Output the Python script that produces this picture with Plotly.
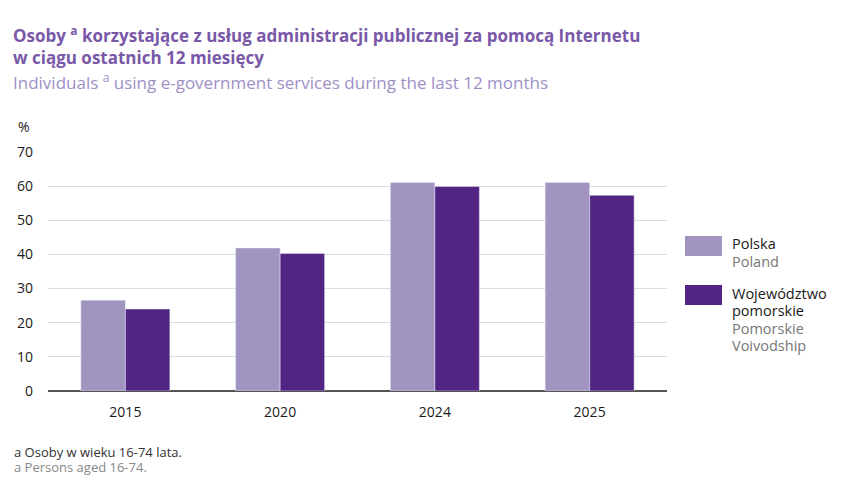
import plotly.graph_objects as go

years = ["2015", "2020", "2024", "2025"]
polska = [26.6, 41.9, 61.1, 61.1]
pomorskie = [24.0, 40.3, 59.9, 57.3]
y_ticks = [0, 10, 20, 30, 40, 50, 60, 70]

LIGHT = "#a194c1"
DARK = "#522483"
FONT = "Open Sans"

fig = go.Figure()
fig.add_trace(go.Bar(x=years, y=polska, name="Polska", marker_color=LIGHT))
fig.add_trace(go.Bar(x=years, y=pomorskie, name="Województwo pomorskie", marker_color=DARK))

fig.update_layout(
    width=864, height=478,
    margin=dict(l=48, r=197, t=152, b=87),
    paper_bgcolor="white", plot_bgcolor="white",
    barmode="group", bargap=0.425, bargroupgap=0,
    showlegend=False,
    font=dict(family=FONT, size=14, color="#1a1a1a"),
)
fig.update_xaxes(showgrid=False, showline=False, ticks="", ticklabelstandoff=11,
                 tickfont=dict(size=14, color="#1a1a1a"))
fig.update_yaxes(range=[0, 70], tickvals=y_ticks, showgrid=True, gridcolor="#dcdcdc",
                 gridwidth=1, zeroline=True, zerolinecolor="#555555", zerolinewidth=1.5,
                 ticklabelstandoff=14, tickfont=dict(size=14, color="#1a1a1a"))

# titles
fig.add_annotation(x=11, y=45, showarrow=False,
                   text="<b>Osoby <sup>a</sup> korzystające z usług administracji publicznej za pomocą Internetu<br>w ciągu ostatnich 12 miesięcy</b>",
                   xanchor="left", yanchor="middle", align="left",
                   font=dict(size=17, color="#7a58a8", family=FONT))
fig.add_annotation(x=11, y=81, showarrow=False,
                   text="Individuals <sup>a</sup> using e-government services during the last 12 months",
                   xanchor="left", yanchor="middle", align="left",
                   font=dict(size=17, color="#9e90c6", family=FONT))
fig.add_annotation(x=24, y=126, showarrow=False, text="%", xanchor="center", yanchor="middle",
                   font=dict(size=14, color="#1a1a1a"))

# footnote
fig.add_annotation(x=12, y=452, showarrow=False, text="a Osoby w wieku 16-74 lata.",
                   xanchor="left", yanchor="middle", font=dict(size=13, color="#333333"))
fig.add_annotation(x=12, y=467, showarrow=False, text="a Persons aged 16-74.",
                   xanchor="left", yanchor="middle", font=dict(size=13, color="#888888"))

# legend
fig.add_shape(type="rect", x0=685, x1=722, y0=236, y1=256, fillcolor=LIGHT, line_width=0)
fig.add_shape(type="rect", x0=685, x1=722, y0=285, y1=305, fillcolor=DARK, line_width=0)
legend_lines = [
    ("Polska", 243, "#1a1a1a"),
    ("Poland", 261, "#777777"),
    ("Województwo", 293, "#1a1a1a"),
    ("pomorskie", 310, "#1a1a1a"),
    ("Pomorskie", 328, "#777777"),
    ("Voivodship", 345, "#777777"),
]
for txt, yy, col in legend_lines:
    fig.add_annotation(x=730, y=yy, showarrow=False, text=txt, xanchor="left", yanchor="middle",
                       font=dict(size=14.5, color=col))


def to_paper(fig):
    # pixel positions (top-left origin) for annotations/shapes -> paper coords
    m = fig.layout.margin
    W, H = fig.layout.width, fig.layout.height
    pw = W - m.l - m.r
    ph = H - m.t - m.b
    for a in fig.layout.annotations:
        a.xref = "paper"
        a.yref = "paper"
        a.x = (a.x - m.l) / pw
        a.y = (H - m.b - a.y) / ph
    for s in fig.layout.shapes:
        s.xref = "paper"
        s.yref = "paper"
        s.x0 = (s.x0 - m.l) / pw
        s.x1 = (s.x1 - m.l) / pw
        s.y0, s.y1 = (H - m.b - s.y1) / ph, (H - m.b - s.y0) / ph


to_paper(fig)
# page has a default 8px body margin, drop it so the figure sits at the corner
fig.write_html("out.html", config={"displayModeBar": False},
               post_script="document.body.style.margin='0';")
